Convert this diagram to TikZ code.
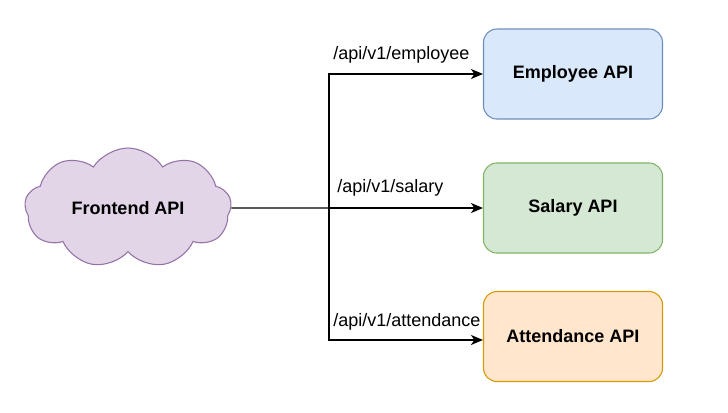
\documentclass[tikz,border=0pt]{standalone}
\usepackage{fontspec}
\setmainfont{Liberation Sans}
\usetikzlibrary{shapes.symbols,arrows.meta}

\definecolor{cloudFill}{HTML}{E1D5E7}
\definecolor{cloudLine}{HTML}{9673A6}
\definecolor{blueFill}{HTML}{DAE8FC}
\definecolor{blueLine}{HTML}{6C8EBF}
\definecolor{greenFill}{HTML}{D5E8D4}
\definecolor{greenLine}{HTML}{82B366}
\definecolor{orangeFill}{HTML}{FFE6CC}
\definecolor{orangeLine}{HTML}{D79B00}

\tikzset{
  apibox/.style={draw, rounded corners=10pt, minimum width=134.25pt, minimum height=67.5pt, font=\bfseries\fontsize{13.5}{16}\selectfont, line width=0.8pt},
  route/.style={line width=1.1pt, -{Stealth[length=9pt,width=7.5pt,inset=2.5pt]}},
  routelabel/.style={anchor=west, inner sep=0pt, font=\fontsize{13.5}{16}\selectfont}
}

\begin{document}
\begin{tikzpicture}[x=0.75pt,y=0.75pt,yscale=-1,xscale=1]
\useasboundingbox (0,0) rectangle (728,412);

% Cloud
\node (front) [cloud, cloud puffs=9, cloud puff arc=115, aspect=1.8, draw=cloudLine, fill=cloudFill, line width=0.8pt, minimum width=155pt, minimum height=90pt, inner sep=0pt, font=\bfseries\fontsize{13.5}{16}\selectfont] at (128,208) {Frontend API};

% Boxes
\node (emp) [apibox, draw=blueLine, fill=blueFill] at (573,74) {Employee API};
\node (sal) [apibox, draw=greenLine, fill=greenFill] at (573,208) {Salary API};
\node (att) [apibox, draw=orangeLine, fill=orangeFill] at (573,336.5) {Attendance API};

% Routes
\coordinate (split) at (329,208);
\coordinate (attIn) at ([yshift=2.6pt]att.west);
\draw [line width=1.1pt] (front.east) -- (split);
\draw [route] (split) |- (emp.west);
\draw [route] (split) -- (sal.west);
\draw [route] (split) |- (attIn);

% Labels
\node [routelabel] at (333,55) {/api/v1/employee};
\node [routelabel] at (337,188) {/api/v1/salary};
\node [routelabel] at (333,322) {/api/v1/attendance};

\end{tikzpicture}
\end{document}
